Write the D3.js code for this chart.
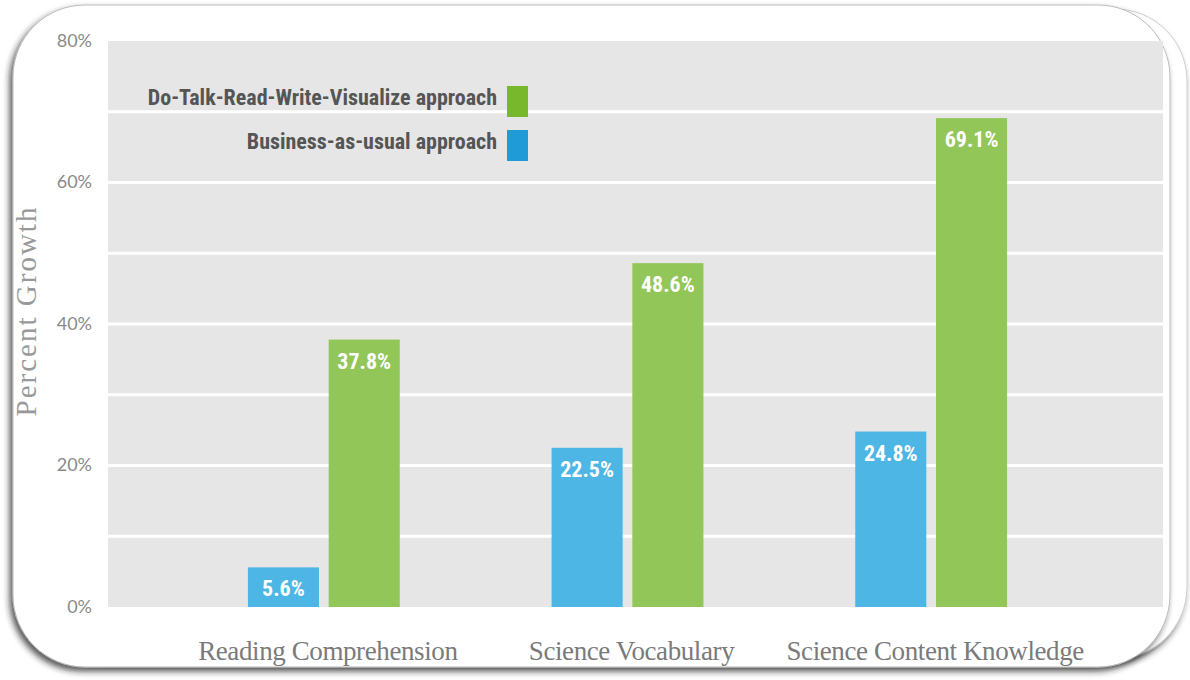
<!DOCTYPE html>
<html>
<head>
<meta charset="utf-8">
<script src="https://cdn.jsdelivr.net/npm/d3@7"></script>
<style>
  html, body { margin: 0; padding: 0; background: #fff; }
  svg { display: block; }
</style>
</head>
<body>
<div id="chart"></div>
<script>
const WIDTH = 1190;
const HEIGHT = 680;

// data
const categories = ['Reading Comprehension', 'Science Vocabulary', 'Science Content Knowledge'];
const seriesNames = ['Business-as-usual approach', 'Do-Talk-Read-Write-Visualize approach'];
const usualValues = [5.6, 22.5, 24.8];
const dtrwvValues = [37.8, 48.6, 69.1];
const yTicks = [0, 20, 40, 60, 80];
const gridLines = [0, 10, 20, 30, 40, 50, 60, 70, 80];

const BAR_COLORS = ['#4db6e4', '#93c659'];
const KEY_COLORS = ['#1f9bd7', '#77b82c'];

const svg = d3.select('#chart')
  .append('svg')
  .attr('width', WIDTH)
  .attr('height', HEIGHT);

const defs = svg.append('defs');
defs.append('filter')
  .attr('id', 'shadow')
  .attr('x', '-5%').attr('y', '-5%')
  .attr('width', '110%').attr('height', '112%')
  .append('feDropShadow')
  .attr('dx', -3).attr('dy', 4)
  .attr('stdDeviation', 3)
  .attr('flood-color', '#222')
  .attr('flood-opacity', 0.75);

// the two "cards" the chart sits on
svg.append('rect')
  .attr('x', 40).attr('y', 9)
  .attr('width', 1147).attr('height', 650)
  .attr('rx', 72)
  .attr('fill', '#fff')
  .attr('stroke', '#ccc')
  .attr('stroke-width', 1)
  .attr('filter', 'url(#shadow)');

svg.append('rect')
  .attr('x', 13).attr('y', 5)
  .attr('width', 1157).attr('height', 662)
  .attr('rx', 72)
  .attr('fill', '#fff')
  .attr('stroke', '#bbb')
  .attr('stroke-width', 1)
  .attr('filter', 'url(#shadow)');

// scales
const yScale = d3.scaleLinear()
  .domain([0, 80])
  .range([607, 41]);

const x0 = d3.scaleBand()
  .domain(categories)
  .range([172, 1083])
  .paddingInner(0.5)
  .paddingOuter(0.25);

const x1 = d3.scaleBand()
  .domain(seriesNames)
  .range([0, x0.bandwidth()])
  .paddingInner(0.12);

// plot background + white grid
svg.append('rect')
  .attr('x', 108)
  .attr('y', yScale(80))
  .attr('width', 1163 - 108)
  .attr('height', yScale(0) - yScale(80))
  .attr('fill', '#e6e6e6');

svg.append('g')
  .selectAll('line')
  .data(gridLines.filter(d => d > 0 && d < 80))
  .enter()
  .append('line')
  .attr('x1', 108)
  .attr('x2', 1163)
  .attr('y1', d => yScale(d))
  .attr('y2', d => yScale(d))
  .attr('stroke', '#fff')
  .attr('stroke-width', 3);

// y axis labels
const yAxis = d3.axisLeft(yScale)
  .tickValues(yTicks)
  .tickFormat(d => d + '%')
  .tickSize(0)
  .tickPadding(0);

const yAxisG = svg.append('g')
  .attr('transform', 'translate(92, 0)')
  .call(yAxis);
yAxisG.select('.domain').remove();
yAxisG.selectAll('text')
  .attr('dy', '0.3em')
  .style('font-family', 'Lato, "Open Sans", sans-serif')
  .style('font-size', '18px')
  .style('fill', '#8a8a8a');

// bars
const rows = categories.map((c, i) => ({
  category: c,
  values: [
    { series: seriesNames[0], value: usualValues[i], idx: 0 },
    { series: seriesNames[1], value: dtrwvValues[i], idx: 1 }
  ]
}));

const groups = svg.append('g')
  .selectAll('g')
  .data(rows)
  .enter()
  .append('g')
  .attr('transform', d => 'translate(' + x0(d.category) + ',0)');

groups.selectAll('rect')
  .data(d => d.values)
  .enter()
  .append('rect')
  .attr('x', d => x1(d.series))
  .attr('y', d => yScale(d.value))
  .attr('width', x1.bandwidth())
  .attr('height', d => yScale(0) - yScale(d.value))
  .attr('fill', d => BAR_COLORS[d.idx]);

groups.selectAll('text')
  .data(d => d.values)
  .enter()
  .append('text')
  .attr('x', d => x1(d.series) + x1.bandwidth() / 2)
  .attr('y', d => yScale(d.value) + 29)
  .attr('text-anchor', 'middle')
  .style('font-family', '"Liberation Sans Narrow", "Roboto Condensed", sans-serif')
  .style('font-weight', 'bold')
  .style('font-size', '22px')
  .style('fill', '#fff')
  .text(d => d.value.toFixed(1) + '%');

// category labels
const xAxis = d3.axisBottom(x0).tickSize(0).tickPadding(0);
const xAxisG = svg.append('g')
  .attr('transform', 'translate(4, 660)')
  .call(xAxis);
xAxisG.select('.domain').remove();
xAxisG.selectAll('text')
  .attr('dy', 0)
  .attr('y', 0)
  .style('font-family', '"Liberation Serif", "DejaVu Serif", serif')
  .style('font-size', '27px')
  .style('letter-spacing', '-0.4px')
  .style('fill', '#7a7a7a');

// y axis title
svg.append('text')
  .attr('transform', 'translate(36, 311) rotate(-90)')
  .attr('text-anchor', 'middle')
  .style('font-family', '"Liberation Serif", "DejaVu Serif", serif')
  .style('font-size', '29px')
  .style('letter-spacing', '2px')
  .style('fill', '#999')
  .text('Percent Growth');

// legend
const legendItems = [
  { name: seriesNames[1], color: KEY_COLORS[1] },
  { name: seriesNames[0], color: KEY_COLORS[0] }
];

const legend = svg.append('g')
  .selectAll('g')
  .data(legendItems)
  .enter()
  .append('g')
  .attr('transform', (d, i) => 'translate(0,' + (86 + i * 44) + ')');

legend.append('rect')
  .attr('x', 507)
  .attr('width', 21)
  .attr('height', 31)
  .attr('fill', d => d.color);

legend.append('text')
  .attr('x', 497)
  .attr('y', 19)
  .attr('text-anchor', 'end')
  .style('font-family', '"Liberation Sans Narrow", "Roboto Condensed", sans-serif')
  .style('font-weight', 'bold')
  .style('font-size', '22px')
  .style('fill', '#555')
  .text(d => d.name);
</script>
</body>
</html>
